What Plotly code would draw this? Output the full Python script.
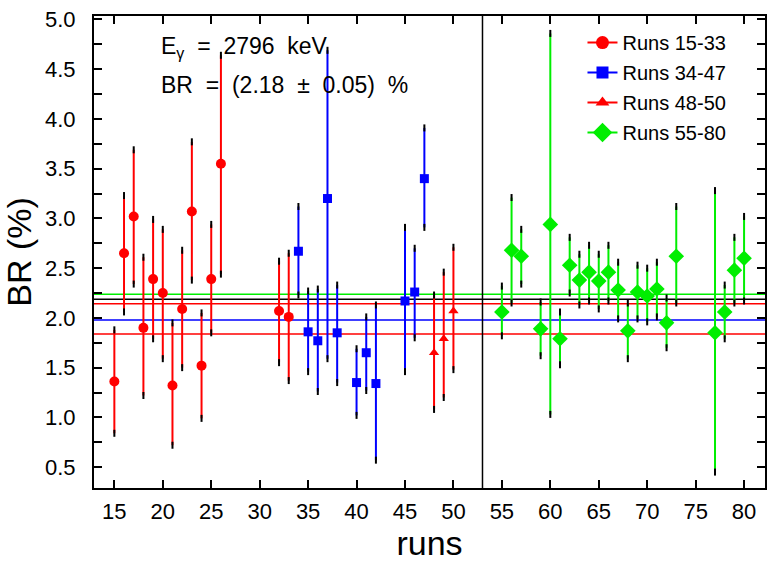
import plotly.graph_objects as go

# ---- data ----
red_runs = [15, 16, 17, 18, 19, 20, 21, 22, 23, 24, 25, 26, 32, 33]
red_val = [1.36, 2.65, 3.02, 1.90, 2.39, 2.25, 1.32, 2.09, 3.07, 1.52, 2.39, 3.55, 2.07, 2.01]
red_hi = [1.88, 3.23, 3.69, 2.61, 2.99, 2.89, 1.95, 2.68, 3.77, 2.05, 2.94, 4.64, 2.57, 2.65]
red_lo = [0.84, 2.06, 2.34, 1.22, 1.79, 1.59, 0.72, 1.50, 2.38, 0.99, 1.85, 2.44, 1.55, 1.37]

blue_runs = [34, 35, 36, 37, 38, 40, 41, 42, 45, 46, 47]
blue_val = [2.67, 1.86, 1.77, 3.20, 1.85, 1.35, 1.65, 1.34, 2.17, 2.26, 3.40]
blue_hi = [3.12, 2.27, 2.29, 4.69, 2.33, 1.69, 2.01, 2.13, 2.91, 2.70, 3.91]
blue_lo = [2.23, 1.46, 1.26, 1.59, 1.35, 1.02, 1.27, 0.57, 1.46, 1.80, 2.91]

tri_runs = [48, 49, 50]
tri_val = [1.65, 1.79, 2.07]
tri_hi = [2.23, 2.46, 2.71]
tri_lo = [1.08, 1.20, 1.48]

green_runs = [55, 56, 57, 59, 60, 61, 62, 63, 64, 65, 66, 67, 68, 69, 70, 71, 72, 73, 77, 78, 79, 80]
green_val = [2.06, 2.68, 2.62, 1.89, 2.94, 1.79, 2.53, 2.38, 2.46, 2.37, 2.46, 2.28, 1.87, 2.26, 2.22,
             2.29, 1.95, 2.62, 1.85, 2.06, 2.48, 2.60]
green_hi = [2.32, 3.21, 2.89, 2.16, 4.86, 2.06, 2.81, 2.64, 2.73, 2.64, 2.73, 2.56, 2.15, 2.53, 2.50,
            2.56, 2.20, 3.12, 3.28, 2.33, 2.81, 3.02]
green_lo = [1.82, 2.15, 2.34, 1.62, 1.03, 1.53, 2.25, 2.13, 2.17, 2.09, 2.17, 1.99, 1.59, 1.99, 1.96,
            2.01, 1.70, 2.15, 0.45, 1.79, 2.15, 2.17]

fit_values = [2.237, 2.187, 2.143, 1.979, 1.838]
fit_colors = ["#00ee00", "black", "#ff0000", "#0000ff", "#ff0000"]
separator_run = 53

legend_names = ["Runs 15-33", "Runs 34-47", "Runs 48-50", "Runs 55-80"]
y_tickvals = [0.5, 0.75, 1.0, 1.25, 1.5, 1.75, 2.0, 2.25, 2.5, 2.75, 3.0, 3.25, 3.5, 3.75, 4.0,
              4.25, 4.5, 4.75, 5.0]
y_ticktext = ["0.5", "", "1.0", "", "1.5", "", "2.0", "", "2.5", "", "3.0", "", "3.5", "", "4.0",
              "", "4.5", "", "5.0"]
x_tickvals = [15, 20, 25, 30, 35, 40, 45, 50, 55, 60, 65, 70, 75, 80]

FONT = "Liberation Sans, Arial, sans-serif"

series = [
    (red_runs, red_val, red_hi, red_lo, "#ff0000", "circle", 10),
    (blue_runs, blue_val, blue_hi, blue_lo, "#0000ff", "square", 9),
    (tri_runs, tri_val, tri_hi, tri_lo, "#ff0000", "triangle-up", 9),
    (green_runs, green_val, green_hi, green_lo, "#00ee00", "diamond", 12),
]

fig = go.Figure()

for (runs, val, hi, lo, col, sym, sz), name in zip(series, legend_names):
    fig.add_trace(go.Scatter(
        x=runs, y=val, mode="markers", showlegend=False,
        marker=dict(color=col, symbol=sym, size=sz),
        error_y=dict(type="data", symmetric=False,
                     array=[h - v for h, v in zip(hi, val)],
                     arrayminus=[v - l for v, l in zip(val, lo)],
                     color=col, thickness=2, width=0),
    ))
    # black tips at error-bar ends
    fig.add_trace(go.Scatter(
        x=runs + runs, y=hi + lo, mode="markers", showlegend=False, hoverinfo="skip",
        marker=dict(symbol="line-ns", size=5, line=dict(color="black", width=2)),
    ))

for (runs, val, hi, lo, col, sym, sz), name in zip(series, legend_names):
    fig.add_trace(go.Scatter(
        x=[None], y=[None], mode="lines+markers", name=name, legendgroup=name,
        line=dict(color=col, width=2),
        marker=dict(color=col, symbol=sym, size=sz + 3),
    ))

for v, c in zip(fit_values, fit_colors):
    fig.add_shape(type="line", xref="paper", x0=0, x1=1, yref="y", y0=v, y1=v,
                  line=dict(color=c, width=1.5), layer="below")
fig.add_shape(type="line", xref="x", x0=separator_run, x1=separator_run, yref="paper", y0=0, y1=1,
              line=dict(color="black", width=1.5), layer="below")

fig.add_annotation(xref="paper", yref="paper", x=0.097, y=0.934, xanchor="left", yanchor="middle",
                   text="E<sub>γ</sub>  =  2796  keV", showarrow=False,
                   font=dict(family=FONT, size=23, color="black"))
fig.add_annotation(xref="paper", yref="paper", x=0.097, y=0.854, xanchor="left", yanchor="middle",
                   text="BR  =  (2.18  ±  0.05)  %", showarrow=False,
                   font=dict(family=FONT, size=23, color="black"))

fig.update_layout(
    width=769, height=563,
    margin=dict(l=94, r=2, t=16, b=75),
    paper_bgcolor="white", plot_bgcolor="white",
    font=dict(family=FONT, color="black"),
    legend=dict(x=0.728, y=0.985, xanchor="left", yanchor="top", bgcolor="rgba(0,0,0,0)",
                font=dict(size=20, family=FONT), tracegroupgap=1),
    xaxis=dict(range=[12.9, 82.16], tickvals=x_tickvals, ticks="inside", ticklen=8, tickwidth=2,
               tickcolor="black", showline=True, linecolor="black", linewidth=2, mirror="allticks",
               showgrid=False, zeroline=False, tickfont=dict(size=22), ticklabelstandoff=3,
               title=dict(text="runs", font=dict(size=34), standoff=0)),
    yaxis=dict(range=[0.29, 5.035], tickvals=y_tickvals, ticktext=y_ticktext, ticks="inside",
               ticklen=8, tickwidth=2, tickcolor="black", showline=True, linecolor="black",
               linewidth=2, mirror="allticks", showgrid=False, zeroline=False,
               tickfont=dict(size=22), ticklabelstandoff=12,
               title=dict(text="BR (%)", font=dict(size=34), standoff=6)),
)

fig.write_html("out.html")
